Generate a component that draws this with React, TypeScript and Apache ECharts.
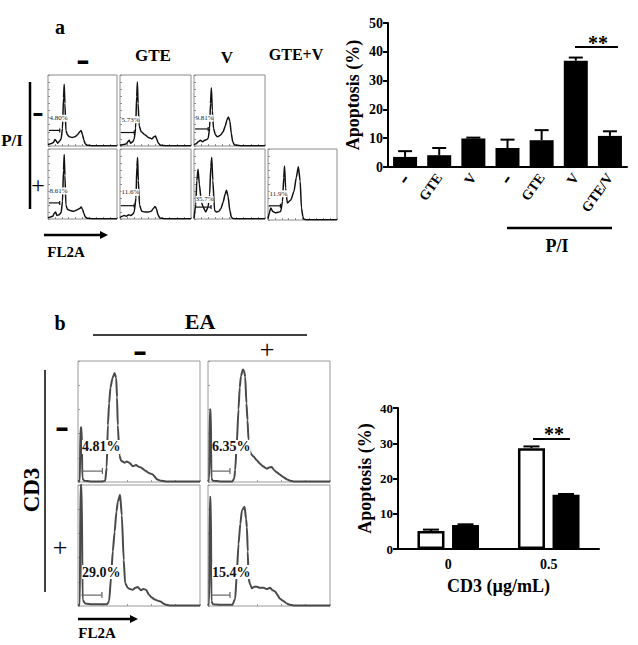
import React, { useEffect, useRef } from 'react';
import * as echarts from 'echarts';

const SERIF = '"Liberation Serif", "DejaVu Serif", "Times New Roman", serif';

// ---------- Panel a: bar chart ----------
const groupsA = ['-', 'GTE', 'V', '-', 'GTE', 'V', 'GTE/V'];
const meanA = [3.5, 4.1, 9.9, 6.6, 9.3, 36.9, 10.8];
const upperA = [5.5, 6.6, 10.2, 9.5, 12.8, 38.0, 12.4];

// ---------- Panel b: bar chart ----------
const doseB = ['0', '0.5'];
const meanEAminus = [5.1, 28.6];
const upperEAminus = [5.5, 29.1];
const meanEAplus = [6.8, 15.4];
const upperEAplus = [7.0, 15.6];

// ---------- Panel a histograms: [FL2A channel %, count % of max] ----------
const histA_ctrl = [[0,2],[4,3],[8,5],[10,9],[12,7],[14,4],[17,7],[19,10],[21,25],[22.5,68],[23.5,87],[24.5,60],[26,22],[28,16],[31,13],[35,12],[39,13],[43,16],[46,20],[48,22],[50,16],[52,8],[54,3],[57,1],[65,0.5],[100,0.5]];
const histA_GTE = [[0,1],[5,2],[9,3],[11,6],[13,8],[15,4],[18,6],[20,10],[22,25],[23.5,70],[24.5,90],[25.5,60],[27,28],[30,20],[35,16],[40,12],[45,10],[48,13],[50,14],[52,9],[54,4],[57,1],[65,0.5],[100,0.5]];
const histA_V = [[0,2],[3,3],[6,6],[9,8],[12,6],[15,8],[18,9],[20,11],[22,25],[23.2,60],[24.5,82],[25.8,50],[27.5,25],[30,16],[33,13],[37,15],[41,20],[44,28],[46.5,37],[48.5,41],[50.5,35],[52.5,18],[54.5,6],[57,1.5],[65,0.5],[100,0.5]];
const histA_PI = [[0,2],[4,3],[7,4],[9,8],[11,10],[13,5],[16,6],[19,9],[21,25],[22.5,70],[23.5,92],[24.5,62],[26,20],[28,14],[32,12],[37,11],[42,13],[46,15],[48,17],[50,14],[52,8],[54,3],[57,1],[65,0.5],[100,0.5]];
const histA_PI_GTE = [[0,2],[3,4],[6,5],[9,4],[12,6],[15,5],[18,7],[20,10],[22.5,30],[23.8,75],[24.8,88],[25.8,55],[27.5,20],[30.6,11],[35,10],[40,10],[44,11],[47,15],[49.5,18],[51.5,14],[53.5,6],[56,1.5],[62,0.5],[100,0.5]];
const histA_PI_V = [[0,1],[2.5,20],[4,55],[5.7,71],[7.5,50],[10.4,24],[13,17],[16.5,10],[19.8,17],[22,35],[23.7,75],[25,88],[26.5,55],[29,12],[32,10],[35,11],[38,15],[41,24],[44,36],[45.8,41],[48,32],[50.5,12],[52.8,2],[56,0.5],[100,0.5]];
const histA_PI_GTEV = [[0,2],[2,10],[4,17],[7,12],[11,10],[15,11],[18.4,12],[21,26],[22.8,60],[24,76],[25.5,45],[28,24],[33,28],[37.6,40],[41,60],[44,75],[46.6,55],[48.5,17],[50.5,5],[52,1],[56,0.5],[100,0.5]];
const pctA = ['4.80%', '5.73%', '9.81%', '8.61%', '11.6%', '35.7%', '11.9%'];
const gateA = [[17,22],[20,19],[20,24],[17,23],[20,19],[24,17],[18,20]];

// ---------- Panel b histograms ----------
const histB_ctrl = [[0,0.5],[1.5,1],[2,45],[3,45],[3.6,3],[5,1],[10,0.5],[20,0.5],[22.3,1],[23.5,12],[24.5,47],[25.5,65],[26.6,78],[28.3,86],[30,90],[31.3,86],[32,70],[32.6,47],[34,22],[35.3,17.6],[38,16],[40,17],[42,16],[45,13],[47.6,14],[50,12.5],[51.6,12],[55.7,9],[58,7.5],[61,6.4],[65,2],[68,1],[72,0.5],[100,0.5]];
const histB_EA = [[0,0.5],[1,2],[1.5,60],[2.3,60],[2.8,3],[4,1],[10,0.5],[20,0.5],[21.5,3],[22.3,10],[23.5,30],[25,60],[26,78],[27,87.5],[28.6,93],[29.5,92],[30.5,87],[31.5,65],[32.4,51],[33.2,35],[34,26],[35.5,23],[37.3,21],[40,18],[42.8,15],[45,13],[48.2,11],[50,12],[52.3,12.5],[54,10],[56.4,8],[59,6],[61.9,4],[65,2],[67.3,1],[70,0.5],[100,0.5]];
const histB_CD3 = [[0,0.5],[1.5,1],[2,100],[3,100],[3.8,5],[6,2],[12,1.5],[20,1.5],[24,1.5],[25.5,4],[27.2,25],[28.5,45],[30,61],[31.5,78],[32.6,86],[34.5,92],[35.9,75],[37.5,38],[38.6,19],[40.8,15],[42.5,14],[44.8,13.4],[47,15],[49,15.6],[51.6,13],[53.5,14],[55.7,13.4],[58.4,9],[60.5,7],[62.5,5.6],[65,4.5],[68,3.6],[70,2],[72,1],[75,0.5],[100,0.5]];
const histB_CD3_EA = [[0,0.5],[1,2],[1.5,90],[2.3,90],[2.8,4],[4,1.5],[10,1],[20,1],[22.3,6],[23.5,25],[25,51],[26.5,68],[27.8,79],[30,82],[31.2,72],[31.9,65],[32.6,45],[33.2,23],[34.5,18],[36,14.6],[38,16],[40,16],[42.5,15],[45.5,15],[48,14],[51,15],[53,13],[55,12],[57,9],[59,6],[62,4],[64.6,2],[67,1],[70,0.5],[100,0.5]];
const pctB = ['4.81%', '6.35%', '29.0%', '15.4%'];
const gateB = [[20,9],[18,9],[19.6,9],[18,9]];

// ---------- layout ----------
const boxesA = [
  { x: 48, y: 75, w: 69, h: 71, ly: 39 },
  { x: 120, y: 75, w: 71, h: 71, ly: 37 },
  { x: 194, y: 75, w: 71, h: 71, ly: 39 },
  { x: 48, y: 149, w: 69, h: 70, ly: 40 },
  { x: 120, y: 149, w: 71, h: 70, ly: 38 },
  { x: 194, y: 149, w: 71, h: 70, ly: 28 },
  { x: 268, y: 149, w: 69, h: 71, ly: 37 },
];
const boxesB = [
  { x: 78, y: 361, w: 122, h: 121, ly: 29 },
  { x: 208, y: 361, w: 122, h: 121, ly: 29 },
  { x: 78, y: 485, w: 122, h: 121, ly: 28 },
  { x: 208, y: 485, w: 122, h: 121, ly: 28 },
];

export default function App() {
  const ref = useRef<HTMLDivElement>(null);
  useEffect(() => {
    if (!ref.current) return;
    const chart = echarts.init(ref.current, undefined, { renderer: 'svg' });
    const grids: any[] = [];
    const xAxes: any[] = [];
    const yAxes: any[] = [];
    const series: any[] = [];
    const graphics: any[] = [];

    const px = (b: any, v: number) => b.x + (v / 100) * b.w;
    const py = (b: any, v: number) => b.y + b.h * (1 - v / 100);

    const addHist = (b: any, data: number[][], color: string, width: number, border: string, tick: number) => {
      const i = grids.length;
      grids.push({ left: b.x, top: b.y, width: b.w, height: b.h, show: true, borderColor: border, borderWidth: 1, backgroundColor: '#fff' });
      const ax = {
        type: 'value', gridIndex: i, min: 0, max: 100, interval: tick,
        axisLine: { show: false },
        axisTick: { show: true, inside: true, length: 2, lineStyle: { color: border } },
        axisLabel: { show: false }, splitLine: { show: false },
      };
      xAxes.push({ ...ax });
      yAxes.push({ ...ax });
      series.push({
        type: 'line', xAxisIndex: i, yAxisIndex: i, data, showSymbol: false, smooth: 0.2, smoothMonotone: 'x',
        lineStyle: { color, width }, silent: true, clip: true,
      });
    };

    const histsA = [histA_ctrl, histA_GTE, histA_V, histA_PI, histA_PI_GTE, histA_PI_V, histA_PI_GTEV];
    histsA.forEach((h, k) => {
      const b = boxesA[k];
      addHist(b, h, '#111', 1.5, '#8c8c8c', 10);
      const gy = py(b, gateA[k][1]);
      const gx = px(b, gateA[k][0]);
      graphics.push({ type: 'line', z: 100, shape: { x1: b.x + 1, y1: gy, x2: gx, y2: gy }, style: { stroke: '#111', lineWidth: 1.2 } });
      graphics.push({ type: 'line', z: 100, shape: { x1: gx, y1: gy - 2, x2: gx, y2: gy + 2 }, style: { stroke: '#111', lineWidth: 1.2 } });
      graphics.push({
        type: 'text', z: 101, x: b.x + 1.5, y: py(b, b.ly),
        style: { text: pctA[k], font: `7px ${SERIF}`, fill: '#222', verticalAlign: 'middle', backgroundColor: '#fff' },
      });
    });

    const histsB = [histB_ctrl, histB_EA, histB_CD3, histB_CD3_EA];
    histsB.forEach((h, k) => {
      const b = boxesB[k];
      addHist(b, h, '#4a4a4a', 2, '#9a9a9a', 20);
      const gy = py(b, gateB[k][1]);
      const gx0 = px(b, 2.7);
      const gx = px(b, gateB[k][0]);
      graphics.push({ type: 'line', z: 100, shape: { x1: gx0, y1: gy, x2: gx, y2: gy }, style: { stroke: '#666', lineWidth: 1.2 } });
      graphics.push({ type: 'line', z: 100, shape: { x1: gx, y1: gy - 3, x2: gx, y2: gy + 3 }, style: { stroke: '#666', lineWidth: 1.2 } });
      graphics.push({
        type: 'text', z: 101, x: b.x + 4, y: py(b, b.ly),
        style: { text: pctB[k], font: `bold 14px ${SERIF}`, fill: '#111', verticalAlign: 'middle', backgroundColor: '#fff' },
      });
    });

    // ---------- bar chart a ----------
    const gA = grids.length;
    grids.push({ left: 388, top: 23, width: 239, height: 144 });
    xAxes.push({
      type: 'category', gridIndex: gA, data: groupsA,
      axisLine: { lineStyle: { color: '#000', width: 2 } }, axisTick: { show: false },
      axisLabel: {
        rotate: 55, margin: 8, color: '#000', fontFamily: SERIF, fontWeight: 'bold', fontSize: 14,
        formatter: (v: string) => (v === '-' ? '{d|-}' : v),
        rich: { d: { fontSize: 24, fontWeight: 'bold', fontFamily: SERIF, color: '#000' } },
      },
    });
    yAxes.push({
      type: 'value', gridIndex: gA, min: 0, max: 50, interval: 10,
      name: 'Apoptosis (%)', nameLocation: 'middle', nameGap: 26,
      nameTextStyle: { color: '#000', fontFamily: SERIF, fontWeight: 'bold', fontSize: 18 },
      axisLine: { show: true, lineStyle: { color: '#000', width: 2 } },
      axisTick: { show: true, length: 5, lineStyle: { color: '#000', width: 2 } },
      axisLabel: { color: '#000', fontFamily: SERIF, fontWeight: 'bold', fontSize: 14, margin: 5 },
      splitLine: { show: false },
    });
    series.push({
      type: 'bar', xAxisIndex: gA, yAxisIndex: gA, data: meanA, barWidth: 24,
      itemStyle: { color: '#000' }, silent: true,
    });
    const errRender = (offset: number, cap: number) => (params: any, api: any) => {
      const xi = api.value(0);
      const p1 = api.coord([xi, api.value(1)]);
      const p2 = api.coord([xi, api.value(2)]);
      const cx = p1[0] + offset;
      return {
        type: 'group',
        children: [
          { type: 'line', shape: { x1: cx, y1: p1[1], x2: cx, y2: p2[1] }, style: { stroke: '#000', lineWidth: 2 } },
          { type: 'line', shape: { x1: cx - cap / 2, y1: p2[1], x2: cx + cap / 2, y2: p2[1] }, style: { stroke: '#000', lineWidth: 2 } },
        ],
      };
    };
    series.push({
      type: 'custom', xAxisIndex: gA, yAxisIndex: gA, silent: true, z: 5,
      data: meanA.map((m, i) => [i, m, upperA[i]]),
      encode: { x: 0, y: [1, 2] },
      renderItem: errRender(0, 14),
    });

    // ---------- bar chart b ----------
    const gB = grids.length;
    grids.push({ left: 398, top: 408, width: 201, height: 141 });
    xAxes.push({
      type: 'category', gridIndex: gB, data: doseB,
      name: 'CD3 (µg/mL)', nameLocation: 'middle', nameGap: 28,
      nameTextStyle: { color: '#000', fontFamily: SERIF, fontWeight: 'bold', fontSize: 18 },
      axisLine: { lineStyle: { color: '#000', width: 2 } }, axisTick: { show: false },
      axisLabel: { margin: 8, color: '#000', fontFamily: SERIF, fontWeight: 'bold', fontSize: 14 },
    });
    yAxes.push({
      type: 'value', gridIndex: gB, min: 0, max: 40, interval: 10,
      name: 'Apoptosis (%)', nameLocation: 'middle', nameGap: 24,
      nameTextStyle: { color: '#000', fontFamily: SERIF, fontWeight: 'bold', fontSize: 18 },
      axisLine: { show: true, lineStyle: { color: '#000', width: 2 } },
      axisTick: { show: true, length: 5, lineStyle: { color: '#000', width: 2 } },
      axisLabel: { color: '#000', fontFamily: SERIF, fontWeight: 'bold', fontSize: 13, margin: 5 },
      splitLine: { show: false },
    });
    series.push({
      type: 'bar', xAxisIndex: gB, yAxisIndex: gB, data: meanEAminus, barWidth: 27, barGap: '28%',
      itemStyle: { color: '#fff', borderColor: '#000', borderWidth: 2.5 }, silent: true,
    });
    series.push({
      type: 'bar', xAxisIndex: gB, yAxisIndex: gB, data: meanEAplus, barWidth: 27, barGap: '28%',
      itemStyle: { color: '#000' }, silent: true,
    });
    series.push({
      type: 'custom', xAxisIndex: gB, yAxisIndex: gB, silent: true, z: 5,
      data: meanEAminus.map((m, i) => [i, m, upperEAminus[i]]),
      encode: { x: 0, y: [1, 2] },
      renderItem: errRender(-17.3, 16),
    });
    series.push({
      type: 'custom', xAxisIndex: gB, yAxisIndex: gB, silent: true, z: 5,
      data: meanEAplus.map((m, i) => [i, m, upperEAplus[i]]),
      encode: { x: 0, y: [1, 2] },
      renderItem: errRender(17.3, 16),
    });

    // ---------- annotations ----------
    const T = (text: string, x: number, y: number, size: number, bold = true, extra: any = {}) => ({
      type: 'text', z: 110, x, y, ...extra,
      style: { text, font: `${bold ? 'bold ' : ''}${size}px ${SERIF}`, fill: '#000', align: 'center', verticalAlign: 'middle' },
    });
    const L = (x1: number, y1: number, x2: number, y2: number, w = 2, c = '#000') => ({
      type: 'line', z: 110, shape: { x1, y1, x2, y2 }, style: { stroke: c, lineWidth: w },
    });
    graphics.push(
      T('a', 60, 27, 20),
      T('-', 83, 58, 40),
      T('GTE', 153, 55, 17),
      T('V', 227, 57, 17),
      T('GTE+V', 296, 54, 16),
      T('P/I', 12, 140, 17),
      L(30, 82, 30, 209, 2.5),
      T('-', 38, 111, 34),
      T('+', 38, 185, 24, false),
      L(44, 235, 101, 235, 2.5),
      { type: 'polygon', z: 110, shape: { points: [[100, 231], [108, 235], [100, 239]] }, style: { fill: '#000' } },
      T('FL2A', 66, 252, 15),
      L(575, 47, 618, 47, 2),
      T('**', 598, 43, 20),
      L(507, 228, 612, 228, 2.5),
      T('P/I', 557, 246, 18),
      T('b', 60, 323, 20),
      T('EA', 200, 321, 22),
      L(93, 335, 307, 335, 1.5),
      T('-', 140, 349, 42),
      T('+', 267, 349, 26, false),
      T('CD3', 31, 490, 23, true, { rotation: Math.PI / 2 }),
      L(45, 370, 45, 592, 1.5),
      T('-', 62, 425, 42),
      T('+', 60, 547, 26, false),
      L(78, 619, 131, 619, 2.5),
      { type: 'polygon', z: 110, shape: { points: [[130, 615], [138, 619], [130, 623]] }, style: { fill: '#000' } },
      T('FL2A', 97, 633, 15),
      L(533, 439, 570, 439, 2),
      T('**', 554, 434, 20),
    );

    chart.setOption({
      animation: false,
      backgroundColor: '#fff',
      grid: grids,
      xAxis: xAxes,
      yAxis: yAxes,
      series,
      graphic: { elements: graphics },
    });
    return () => chart.dispose();
  }, []);
  return <div ref={ref} style={{ position: 'fixed', left: 0, top: 0, width: 638, height: 645 }} />;
}
